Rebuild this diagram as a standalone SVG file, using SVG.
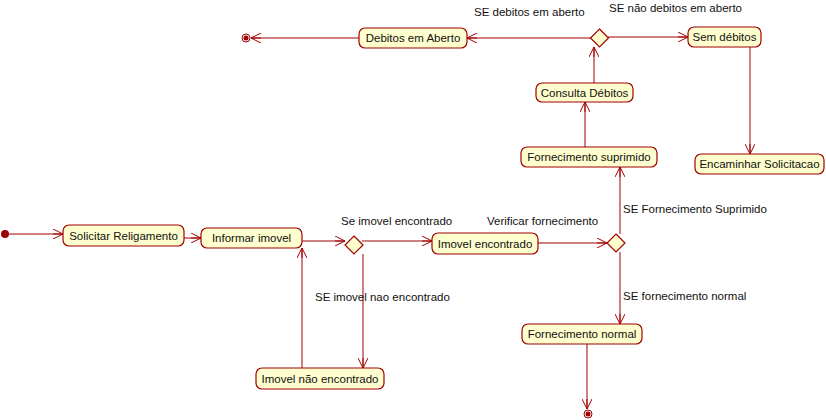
<svg xmlns="http://www.w3.org/2000/svg" width="826" height="420" viewBox="0 0 826 420">
<defs>
<style>
.n{fill:#FEFECE;stroke:#A00000;stroke-width:1.2}
.t{font-family:"Liberation Sans",Arial,sans-serif;font-size:11.5px;fill:#111}
.l{font-family:"Liberation Sans",Arial,sans-serif;font-size:11.5px;fill:#111}
.c{fill:none;stroke:#A00000;stroke-width:1;marker-end:url(#a)}
</style>
<marker id="a" viewBox="0 0 10 10" refX="10" refY="5" markerWidth="10" markerHeight="10" markerUnits="userSpaceOnUse" orient="auto">
<path d="M0,0 L10,5 L0,10 M10,5 L0,5" fill="none" stroke="#A00000" stroke-width="1"/>
</marker>
</defs>
<g id="connectors">
<path class="c" d="M9,234 L63,234"/>
<path class="c" d="M184,238 L201,238"/>
<path class="c" d="M302,241 L345,241"/>
<path class="c" d="M362,241 L432,241"/>
<path class="c" d="M363,254 L363,368"/>
<path class="c" d="M302,368 L302,248"/>
<path class="c" d="M538,243 L607,243"/>
<path class="c" d="M620,234 L620,167"/>
<path class="c" d="M620,252 L620,324"/>
<path class="c" d="M587,344 L587,409"/>
<path class="c" d="M585,147 L585,102"/>
<path class="c" d="M594,83 L594,47"/>
<path class="c" d="M608,37 L688,37"/>
<path class="c" d="M750,47 L750,154"/>
<path class="c" d="M591,38 L467,38"/>
<path class="c" d="M359,38 L251,38"/>
</g>
<g id="labels">
<text class="l" x="341" y="225">Se imovel encontrado</text>
<text class="l" x="487" y="225">Verificar fornecimento</text>
<text class="l" x="315" y="301">SE imovel nao encontrado</text>
<text class="l" x="623" y="213">SE Fornecimento Suprimido</text>
<text class="l" x="623" y="300">SE fornecimento normal</text>
<text class="l" x="474" y="16">SE debitos em aberto</text>
<text class="l" x="609" y="12">SE não debitos em aberto</text>
</g>
<g id="start"><circle cx="5" cy="234" r="4" fill="#A00000"/></g>
<g id="end1"><circle cx="246" cy="38" r="4" fill="none" stroke="#A00000" stroke-width="1"/><circle cx="246" cy="38" r="2.5" fill="#A00000"/></g>
<g id="end2"><circle cx="588" cy="414" r="4" fill="none" stroke="#A00000" stroke-width="1"/><circle cx="588" cy="414" r="2.5" fill="#A00000"/></g>
<g id="n1"><rect class="n" x="63" y="225" width="121" height="21" rx="6"/><text class="t" x="123.5" y="240" text-anchor="middle">Solicitar Religamento</text></g>
<g id="n2"><rect class="n" x="201" y="228" width="101" height="20" rx="6"/><text class="t" x="251.5" y="242" text-anchor="middle">Informar imovel</text></g>
<g id="d1"><polygon class="n" points="354,236 363,245 354,254 345,245"/></g>
<g id="n3"><rect class="n" x="432" y="233" width="106" height="21" rx="6"/><text class="t" x="485" y="248" text-anchor="middle">Imovel encontrado</text></g>
<g id="n4"><rect class="n" x="256" y="368" width="128" height="21" rx="6"/><text class="t" x="320" y="383" text-anchor="middle">Imovel não encontrado</text></g>
<g id="d2"><polygon class="n" points="616,234 625,243 616,252 607,243"/></g>
<g id="n5"><rect class="n" x="521" y="147" width="136" height="20" rx="6"/><text class="t" x="589" y="161" text-anchor="middle">Fornecimento suprimido</text></g>
<g id="n6"><rect class="n" x="522" y="324" width="120" height="20" rx="6"/><text class="t" x="582" y="338" text-anchor="middle">Fornecimento normal</text></g>
<g id="n7"><rect class="n" x="536" y="83" width="97" height="19" rx="6"/><text class="t" x="584.5" y="97" text-anchor="middle">Consulta Débitos</text></g>
<g id="d3"><polygon class="n" points="599.5,29 608.5,38 599.5,47 590.5,38"/></g>
<g id="n8"><rect class="n" x="688" y="27" width="73" height="20" rx="6"/><text class="t" x="724.5" y="41" text-anchor="middle">Sem débitos</text></g>
<g id="n9"><rect class="n" x="695" y="154" width="129" height="20" rx="6"/><text class="t" x="759.5" y="168" text-anchor="middle">Encaminhar Solicitacao</text></g>
<g id="n10"><rect class="n" x="359" y="28" width="108" height="20" rx="6"/><text class="t" x="413" y="42" text-anchor="middle">Debitos em Aberto</text></g>
</svg>
